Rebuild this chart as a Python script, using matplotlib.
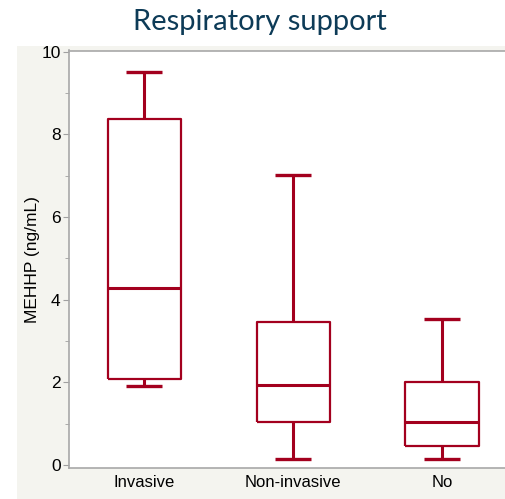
import matplotlib
matplotlib.use('Agg')
import matplotlib.pyplot as plt
from matplotlib.patches import Rectangle

groups = ['Invasive', 'Non-invasive', 'No']
whislo = [1.92, 0.14, 0.14]
q1 = [2.07, 1.03, 0.45]
med = [4.28, 1.93, 1.03]
q3 = [8.37, 3.46, 2.01]
whishi = [9.5, 7.02, 3.53]

red = '#A3001E'
fig = plt.figure(figsize=(5.06, 4.99), dpi=100)
fig.patches.append(Rectangle((17 / 506, 0), 1, 1 - 46 / 499, transform=fig.transFigure,
                             facecolor='#F4F4EF', edgecolor='none', zorder=-5))

ax = fig.add_axes([69 / 506, 31 / 499, 437 / 506, (468 - 50.5) / 499])
ax.set_facecolor('white')
stats = []
for i in range(len(groups)):
    stats.append(dict(label=groups[i], whislo=whislo[i], q1=q1[i], med=med[i],
                      q3=q3[i], whishi=whishi[i], fliers=[]))
ax.bxp(stats, positions=[1, 2, 3], widths=0.49, showfliers=False,
       boxprops=dict(color=red, linewidth=1.6),
       whiskerprops=dict(color=red, linewidth=2.2),
       capprops=dict(color=red, linewidth=2.4),
       medianprops=dict(color=red, linewidth=2.2))
for c in ax.lines:
    c.set_solid_capstyle('butt')

ax.set_xlim(0.4966, 3.4295)
ax.set_ylim(-0.073, 10.03)
ax.set_yticks([0, 2, 4, 6, 8, 10])
ax.set_yticks([1, 3, 5, 7, 9], minor=True)
ax.tick_params(axis='y', which='major', length=4, color='#A0A0A0', labelsize=12.5, pad=2)
ax.tick_params(axis='y', which='minor', length=3, color='#A0A0A0')
ax.tick_params(axis='x', length=0, labelsize=12, pad=5)
for lbl in ax.get_xticklabels() + ax.get_yticklabels():
    lbl.set_fontfamily('Liberation Sans')
ax.spines['right'].set_visible(False)
for s in ['top', 'left', 'bottom']:
    ax.spines[s].set_color('#A8A8A8')
    ax.spines[s].set_linewidth(1.2)
ax.set_ylabel('MEHHP (ng/mL)', fontsize=12.5, fontfamily='Liberation Sans', labelpad=1)

fig.text(260 / 506, 1 - 22 / 499, 'Respiratory support', ha='center', va='center',
         fontsize=21, color='#0D3B57', fontfamily='Lato')

fig.savefig('out.png', dpi=100)
